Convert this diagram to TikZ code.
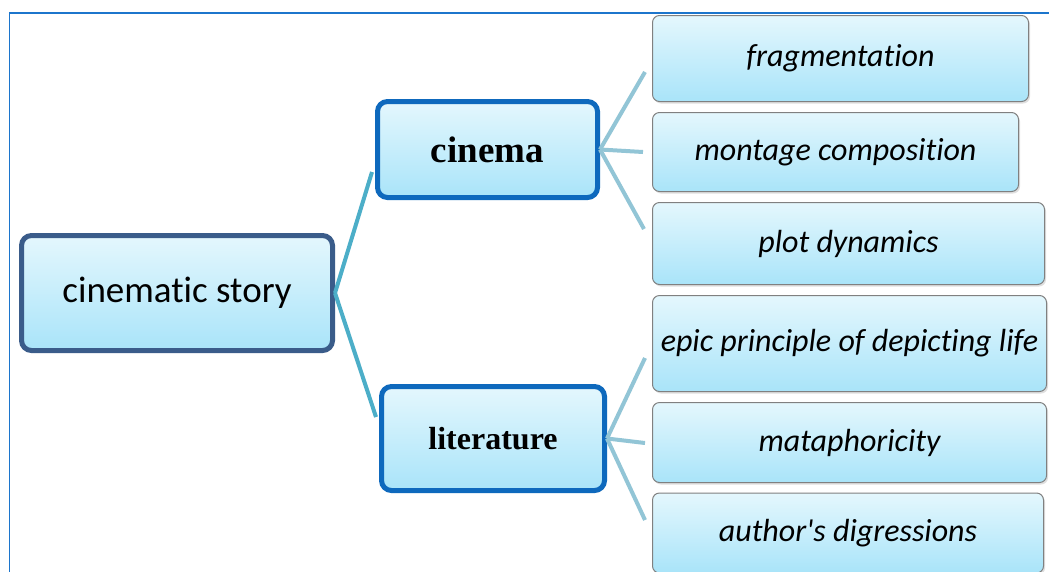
\documentclass[tikz,border=0pt]{standalone}
\usepackage{fontspec}
\setmainfont{Carlito}[Ligatures={NoCommon}]
\newfontfamily\serifb{Liberation Serif}
\usetikzlibrary{shadows}
\definecolor{frameblue}{HTML}{1C75CC}
\definecolor{rootborder}{HTML}{3A5C8A}
\definecolor{midborder}{HTML}{0E69BD}
\definecolor{leafborder}{HTML}{808080}
\definecolor{topfill}{HTML}{E4F7FD}
\definecolor{botfill}{HTML}{A9E4F9}
\definecolor{linkdark}{HTML}{4CAEC8}
\definecolor{linklight}{HTML}{92C5D6}
\tikzset{
  x=1pt, y=1pt,
  boxbase/.style={inner sep=0pt, top color=topfill, bottom color=botfill, align=center,
    drop shadow={shadow xshift=1.5pt, shadow yshift=-2pt, opacity=0.25}},
  rootbox/.style={boxbase, draw=rootborder, line width=5pt, rounded corners=10pt,
    font=\fontsize{37}{40}\selectfont},
  midbox/.style={boxbase, draw=midborder, line width=5pt, rounded corners=10pt},
  leafbox/.style={boxbase, draw=leafborder, line width=1pt, rounded corners=7pt,
    font=\fontsize{32}{36}\selectfont\itshape},
  rootlink/.style={draw=linkdark, line width=4pt},
  leaflink/.style={draw=linklight, line width=4pt},
}
\begin{document}
\begin{tikzpicture}
\useasboundingbox (0,0) rectangle (1049,-571);
\fill[white] (0,0) rectangle (1049,-571);
\draw[frameblue, line width=1.6pt] (9.5,-575) -- (9.5,-13) -- (1052,-13);

\coordinate (rc) at (372,-172);
\coordinate (rl) at (376,-417);
\coordinate (cf) at (645,-72);
\coordinate (cm) at (643,-152);
\coordinate (cp) at (644,-229);
\coordinate (le) at (645,-358);
\coordinate (lm) at (645,-443);
\coordinate (la) at (645,-520);

\node[rootbox, minimum width=311pt, minimum height=115pt] (root) at (177,-293) {cinematic story};
\node[midbox, minimum width=220pt, minimum height=96pt, font=\serifb\bfseries\fontsize{37}{40}\selectfont] (cinema) at (487.5,-149.5) {cinema};
\node[midbox, minimum width=223pt, minimum height=104pt, font=\serifb\bfseries\fontsize{32}{36}\selectfont] (lit) at (493,-438.5) {literature};

\node[leafbox, minimum width=376pt, minimum height=86pt] (frag) at (840.5,-58.5) {fragmentation};
\node[leafbox, minimum width=366pt, minimum height=79pt] (mont) at (835.5,-152) {montage composition};
\node[leafbox, minimum width=392pt, minimum height=82pt] (plot) at (848.5,-243.5) {plot dynamics};
\node[leafbox, minimum width=394pt, minimum height=96pt] (epic) at (849.5,-343.5) {epic principle of depicting life};
\node[leafbox, minimum width=394pt, minimum height=80pt] (meta) at (849.5,-442.5) {mataphoricity};
\node[leafbox, minimum width=391pt, minimum height=80pt] (auth) at (848,-533) {author\textquotesingle s digressions};

\draw[rootlink] (root.east) -- (rc);
\draw[rootlink] (root.east) -- (rl);
\draw[leaflink] (cinema.east) -- (cf);
\draw[leaflink] (cinema.east) -- (cm);
\draw[leaflink] (cinema.east) -- (cp);
\draw[leaflink] (lit.east) -- (le);
\draw[leaflink] (lit.east) -- (lm);
\draw[leaflink] (lit.east) -- (la);
\end{tikzpicture}
\end{document}
